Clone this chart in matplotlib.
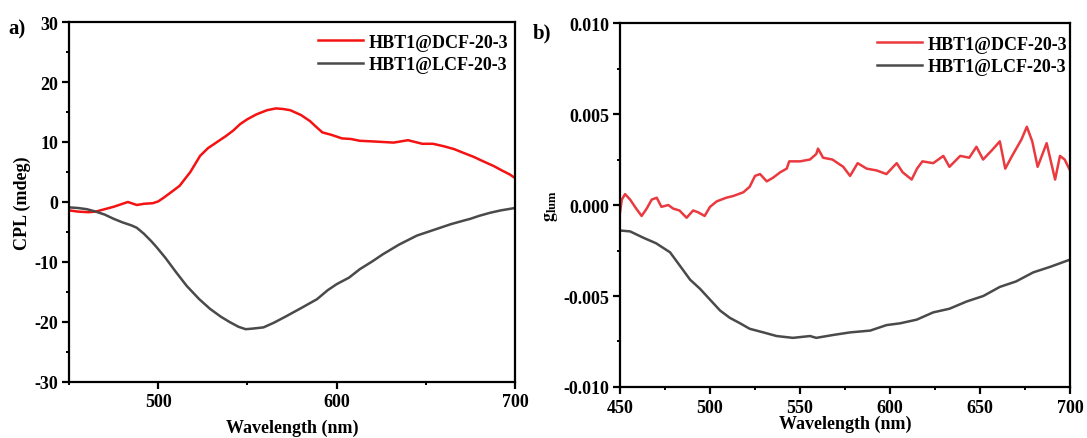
import numpy as np
import matplotlib
matplotlib.use("Agg")
import matplotlib.pyplot as plt
from matplotlib.ticker import MultipleLocator, FormatStrFormatter

plt.rcParams['font.family'] = ['Liberation Serif', 'DejaVu Serif']
plt.rcParams['font.weight'] = 'bold'
plt.rcParams['mathtext.fontset'] = 'stix'
plt.rcParams['axes.unicode_minus'] = False

label_d = "HBT1@DCF-20-3"
label_l = "HBT1@LCF-20-3"

# (a) CPL spectra, mdeg
cpl_d_wl = [450, 455, 461, 465, 470, 475, 480, 483, 486, 488, 492, 497, 500, 503, 508,
            512, 518, 523.5, 528, 533, 538, 542, 546, 550, 555, 561, 566, 570, 574, 580,
            585, 589, 592, 597, 603, 608, 613, 620, 626, 632, 636, 640, 644, 648, 654,
            660, 666, 671, 677, 682, 688, 693, 697, 700]
cpl_d = [-1.4, -1.6, -1.7, -1.6, -1.2, -0.8, -0.3, 0.0, -0.3, -0.5, -0.3, -0.2, 0.1, 0.7, 1.8,
         2.7, 5.0, 7.7, 9.0, 10.0, 11.0, 11.9, 13.0, 13.8, 14.6, 15.3, 15.6, 15.5, 15.3, 14.5,
         13.5, 12.4, 11.6, 11.2, 10.6, 10.5, 10.2, 10.1, 10.0, 9.9, 10.1, 10.3, 10.0, 9.7, 9.7,
         9.3, 8.8, 8.2, 7.5, 6.8, 6.0, 5.2, 4.6, 4.0]

cpl_l_wl = [450, 455, 460, 465, 470, 475, 480, 485, 488, 492, 496, 499, 504, 510, 516,
            523, 529, 535, 540, 545, 549, 553, 559, 565, 572, 580, 589, 595, 600, 607,
            613, 620, 626, 635, 645, 655, 664, 670, 675, 680, 686, 692, 700]
cpl_l = [-0.9, -1.0, -1.2, -1.6, -2.1, -2.8, -3.4, -3.9, -4.3, -5.3, -6.5, -7.5, -9.3, -11.7, -14.0,
         -16.2, -17.8, -19.1, -20.0, -20.8, -21.2, -21.1, -20.9, -20.1, -19.0, -17.7, -16.2, -14.7, -13.7, -12.6,
         -11.2, -9.9, -8.7, -7.1, -5.6, -4.6, -3.7, -3.2, -2.8, -2.3, -1.8, -1.4, -1.0]

# (b) dissymmetry factor g_lum
g_d_wl = [450, 451, 452.8, 455.6, 459, 462, 464.8, 467.6, 470.4, 473, 476.8, 479.6, 483, 487,
          490.6, 493.4, 497, 500, 503.7, 509, 513, 518.5, 522, 525, 527.8, 531.5, 535, 539,
          542.6, 544, 550, 555.5, 559, 560, 562.8, 568, 574, 577.8, 582, 587, 592.6, 598,
          603.7, 607, 612, 615, 618, 624, 629.6, 633, 639, 644, 648, 651.7, 656.5, 661,
          664, 667.8, 673, 676, 679, 682, 687, 691.7, 694.4, 697, 700]
g_d = [-0.0004, 0.0003, 0.0006, 0.0003, -0.0002, -0.0006, -0.0002, 0.0003, 0.0004, -0.0001,
       0.0000, -0.0002, -0.0003, -0.0007, -0.0003, -0.0004, -0.0006, -0.0001, 0.0002, 0.0004,
       0.0005, 0.0007, 0.0010, 0.0016, 0.0017, 0.0013, 0.0015, 0.0018, 0.0020, 0.0024,
       0.0024, 0.0025, 0.0028, 0.0031, 0.0026, 0.0025, 0.0021, 0.0016, 0.0023, 0.0020,
       0.0019, 0.0017, 0.0023, 0.0018, 0.0014, 0.0020, 0.0024, 0.0023, 0.0027, 0.0021,
       0.0027, 0.0026, 0.0032, 0.0025, 0.0030, 0.0035, 0.0020, 0.0027, 0.0036, 0.0043,
       0.0035, 0.0021, 0.0034, 0.0014, 0.0027, 0.0025, 0.0019]

g_l_wl = [450, 455.6, 463, 470, 477.8, 483, 488.9, 494.4, 500, 505.6, 511, 516.7, 522, 529.6,
          537, 546, 555.6, 559, 568.5, 577.8, 589, 598, 605.6, 614.8, 624, 633, 642.6, 651.8,
          661, 670, 679.6, 688.9, 700]
g_l = [-0.0014, -0.00145, -0.0018, -0.0021, -0.0026, -0.0033, -0.0041, -0.0046, -0.0052, -0.0058,
       -0.0062, -0.0065, -0.0068, -0.0070, -0.0072, -0.0073, -0.0072, -0.0073, -0.00714, -0.0070,
       -0.0069, -0.0066, -0.0065, -0.0063, -0.0059, -0.0057, -0.0053, -0.0050, -0.0045, -0.0042,
       -0.0037, -0.0034, -0.0030]

fig = plt.figure(figsize=(10.87, 4.39), dpi=100)
ax1 = fig.add_axes([0.0635, 0.1276, 0.4103, 0.82])
ax2 = fig.add_axes([0.5704, 0.1162, 0.414, 0.829])

fs = 13
gray = '#4a4a4a'

ax1.plot(cpl_d_wl, cpl_d, color='#f41212', lw=1.8, label=label_d)
ax1.plot(cpl_l_wl, cpl_l, color=gray, lw=1.8, label=label_l)
ax1.set_xlim(450, 700)
ax1.set_ylim(-30, 30)
ax1.xaxis.set_major_locator(MultipleLocator(100))
ax1.xaxis.set_minor_locator(MultipleLocator(50))
ax1.yaxis.set_major_locator(MultipleLocator(10))
ax1.yaxis.set_minor_locator(MultipleLocator(5))
ax1.set_xlabel("Wavelength (nm)", fontsize=fs, fontweight='bold', labelpad=6)
ax1.set_ylabel("CPL (mdeg)", fontsize=fs, fontweight='bold', labelpad=2)
ax1.legend(loc='upper right', bbox_to_anchor=(0.985, 0.968), frameon=False,
           fontsize=fs, handlelength=2.5, handletextpad=0.3, labelspacing=0.3,
           borderaxespad=0, borderpad=0)
fig.text(0.008, 0.922, "a)", fontsize=15, fontweight='bold')

ax2.plot(g_d_wl, g_d, color='#ea3a3f', lw=1.8, label=label_d)
ax2.plot(g_l_wl, g_l, color=gray, lw=1.8, label=label_l)
ax2.set_xlim(450, 700)
ax2.set_ylim(-0.01, 0.01)
ax2.xaxis.set_major_locator(MultipleLocator(50))
ax2.xaxis.set_minor_locator(MultipleLocator(25))
ax2.yaxis.set_major_locator(MultipleLocator(0.005))
ax2.yaxis.set_minor_locator(MultipleLocator(0.0025))
ax2.yaxis.set_major_formatter(FormatStrFormatter('%.3f'))
ax2.set_xlabel("Wavelength (nm)", fontsize=fs, fontweight='bold', labelpad=-1)
ax2.set_ylabel(r"$\mathbf{g_{lum}}$", fontsize=fs, labelpad=2)
ax2.legend(loc='upper right', bbox_to_anchor=(0.993, 0.965), frameon=False,
           fontsize=fs, handlelength=2.5, handletextpad=0.3, labelspacing=0.3,
           borderaxespad=0, borderpad=0)
fig.text(0.49, 0.912, "b)", fontsize=15, fontweight='bold')

for ax in (ax1, ax2):
    for sp in ax.spines.values():
        sp.set_linewidth(1.6)
    ax.tick_params(which='major', direction='out', length=5, width=1.6,
                   labelsize=fs, top=False, right=False, pad=3)
    ax.tick_params(which='minor', direction='out', length=2.5, width=1.4,
                   top=False, right=False)
    for t in ax.get_xticklabels() + ax.get_yticklabels():
        t.set_fontweight('bold')
ax2.tick_params(axis='x', which='major', pad=4)

fig.savefig("out.png", dpi=100)
